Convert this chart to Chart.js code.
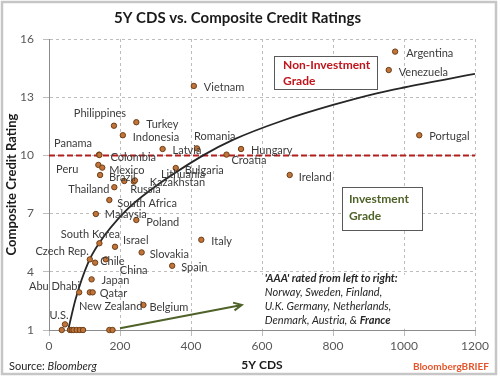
<!DOCTYPE html>
<html>
<head>
<meta charset="utf-8">
<script src="https://cdn.jsdelivr.net/npm/chart.js@4"></script>
<style>
  html, body { margin: 0; padding: 0; background: #fff; }
</style>
</head>
<body>
<canvas id="chart" width="500" height="378"></canvas>
<script>
// values
const countries = ["Argentina", "Venezuela", "Portugal", "Vietnam", "Philippines", "Turkey", "Indonesia",
  "Panama", "Colombia", "Latvia", "Romania", "Hungary", "Croatia", "Ireland", "Bulgaria", "Peru", "Mexico",
  "Brazil", "Russia", "Kazakhstan", "Lithuania", "Thailand", "South Africa", "Malaysia", "Poland",
  "South Korea", "Israel", "Slovakia", "Spain", "Italy", "Czech Rep.", "Chile", "China", "Japan",
  "Abu Dhabi", "Qatar", "New Zealand", "Belgium", "U.S."];
const cds = [975, 957, 1043, 408, 183, 246, 208,
  141, 142, 320, 417, 541, 500, 678, 357, 139, 150,
  144, 212, 239, 242, 184, 170, 132, 246,
  142, 186, 261, 347, 429, 115, 130, 160, 120,
  85, 115, 123, 266, 45];
const rating = [15.35, 14.4, 11.04, 13.58, 11.53, 11.71, 11.04,
  10.04, 10.02, 10.33, 10.36, 10.33, 10.04, 8.99, 9.35, 9.51, 9.37,
  8.99, 8.68, 8.65, 8.71, 8.36, 7.7, 6.98, 6.67,
  5.47, 5.29, 5.0, 4.31, 5.65, 4.64, 4.47, 4.64, 3.61,
  2.94, 2.94, 2.94, 2.29, 1.29];

// AAA countries (unlabelled dots on the bottom line)
const aaaCds = [36, 59, 64, 69, 78, 87, 96, 170, 179];
const aaaRating = [1, 1, 1, 1, 1, 1, 1, 1, 1];

// fitted curve, points
const trendCds = [54, 75, 111, 142, 214, 285, 434, 518, 659, 800, 923, 1000, 1200];
const trendRating = [1.0, 2.6, 4.5, 5.5, 7.1, 8.2, 10.0, 10.8, 11.8, 12.6, 13.2, 13.5, 14.2];

const igLine = 10; // investment grade cut-off
const xTicks = { min: 0, max: 1200, step: 200 };
const yTicks = { min: 1, max: 16, step: 3 };

// label offsets in px from each dot: [dx, dy, align]
const labelPos = {
  "Argentina": [11, 1.5, "left"], "Venezuela": [10, 2, "left"], "Portugal": [10, 1, "left"],
  "Vietnam": [10, 2, "left"], "Philippines": [-14, -12, "center"], "Turkey": [10, 2, "left"],
  "Indonesia": [10, 2, "left"], "Panama": [-7, -11, "right"], "Colombia": [11, 2, "left"],
  "Latvia": [10, 1, "left"], "Romania": [-3, -12, "left"], "Hungary": [10, 1, "left"],
  "Croatia": [5, 5.5, "left"], "Ireland": [9, 2, "left"], "Bulgaria": [9, 2, "left"],
  "Peru": [-20, 5, "right"], "Mexico": [7, 3, "left"], "Brazil": [9, 2, "left"],
  "Russia": [6, 8, "left"], "Kazakhstan": [16, 1, "left"], "Lithuania": [26, -5.5, "left"],
  "Thailand": [-5, 2, "right"], "South Africa": [8, 3, "left"], "Malaysia": [9, 0, "left"],
  "Poland": [10, 2, "left"], "South Korea": [-9, -9, "center"], "Israel": [8, -6, "left"],
  "Slovakia": [8, 2, "left"], "Spain": [9, 2, "left"], "Italy": [10, 2, "left"],
  "Czech Rep.": [-1, -7.5, "right"], "Chile": [5, -1, "left"], "China": [14, 11, "left"],
  "Japan": [10, 1, "left"], "Abu Dhabi": [1, -6, "right"], "Qatar": [10, 1, "left"],
  "New Zealand": [18, 14, "center"], "Belgium": [6, 2, "left"], "U.S.": [-6, -9, "center"]
};

const FONT = 'Lato, "Open Sans", sans-serif';

const extras = {
  id: "extras",
  beforeDatasetsDraw(chart) {
    const ctx = chart.ctx, x = chart.scales.x, y = chart.scales.y;
    // white note area for the AAA text
    ctx.save();
    ctx.fillStyle = "#fff";
    ctx.fillRect(x.getPixelForValue(597), y.getPixelForValue(3.85), 210, 54);
    ctx.restore();
  },
  afterDatasetsDraw(chart) {
    const ctx = chart.ctx, x = chart.scales.x, y = chart.scales.y;
    ctx.save();

    // country labels
    const meta = chart.getDatasetMeta(0);
    ctx.font = "11px " + FONT;
    ctx.fillStyle = "#3b3b3b";
    ctx.textBaseline = "middle";
    meta.data.forEach((pt, i) => {
      const p = labelPos[countries[i]] || [9, 1, "left"];
      ctx.textAlign = p[2];
      ctx.fillText(countries[i], pt.x + p[0], pt.y + p[1]);
    });

    // grade boxes
    function box(x0, y0, x1, y1) {
      const l = x.getPixelForValue(x0), r = x.getPixelForValue(x1);
      const t = y.getPixelForValue(y0), b = y.getPixelForValue(y1);
      ctx.fillStyle = "#fff";
      ctx.fillRect(l, t, r - l, b - t);
      ctx.strokeStyle = "#595959";
      ctx.lineWidth = 1;
      ctx.strokeRect(Math.round(l) + 0.5, Math.round(t) + 0.5, Math.round(r - l), Math.round(b - t));
      return [l, t];
    }
    ctx.textAlign = "left";
    let [bx, by] = box(634, 15.12, 924, 13.42);
    ctx.font = "bold 12px " + FONT;
    ctx.fillStyle = "#c0141c";
    ctx.fillText("Non-Investment", bx + 9, by + 9);
    ctx.fillText("Grade", bx + 9, by + 25);

    [bx, by] = box(825, 8.39, 1051, 6.15);
    ctx.fillStyle = "#4f6228";
    ctx.fillText("Investment", bx + 7, by + 12);
    ctx.fillText("Grade", bx + 7, by + 29);

    // arrow toward AAA dots' note
    const ax0 = x.getPixelForValue(200), ay0 = y.getPixelForValue(1.09);
    const ax1 = x.getPixelForValue(543), ay1 = y.getPixelForValue(2.29);
    ctx.strokeStyle = "#4f6228";
    ctx.lineWidth = 2;
    ctx.beginPath();
    ctx.moveTo(ax0, ay0);
    ctx.lineTo(ax1, ay1);
    const ang = Math.atan2(ay1 - ay0, ax1 - ax0);
    ctx.moveTo(ax1 - 9 * Math.cos(ang - 0.45), ay1 - 9 * Math.sin(ang - 0.45));
    ctx.lineTo(ax1, ay1);
    ctx.lineTo(ax1 - 9 * Math.cos(ang + 0.45), ay1 - 9 * Math.sin(ang + 0.45));
    ctx.stroke();

    // AAA note
    const nx = x.getPixelForValue(608);
    let ny = y.getPixelForValue(3.67);
    ctx.fillStyle = "#262626";
    ctx.font = "italic bold 11px " + FONT;
    ctx.fillText("'AAA' rated from left to right:", nx, ny);
    ctx.font = "italic 11px " + FONT;
    ctx.fillText("Norway, Sweden, Finland,", nx, ny + 14);
    ctx.fillText("U.K. Germany, Netherlands,", nx, ny + 28);
    const s = "Denmark, Austria, & ";
    ctx.fillText(s, nx, ny + 42);
    const w = ctx.measureText(s).width;
    ctx.font = "italic bold 11px " + FONT;
    ctx.fillText("France", nx + w, ny + 42);

    // source and brand
    ctx.fillStyle = "#262626";
    ctx.font = "11px " + FONT;
    ctx.fillText("Source: ", 9, 366);
    const sw = ctx.measureText("Source: ").width;
    ctx.font = "italic 11px " + FONT;
    ctx.fillText("Bloomberg", 9 + sw, 366);
    ctx.textAlign = "right";
    ctx.font = "bold 10px " + FONT;
    ctx.fillStyle = "#e4552b";
    ctx.fillText("BloombergBRIEF", 489, 367);

    // outer frame
    ctx.strokeStyle = "#c6c6c6";
    ctx.lineWidth = 2.5;
    ctx.strokeRect(2, 2, 494, 372);
    ctx.restore();
  }
};

new Chart(document.getElementById("chart"), {
  type: "scatter",
  data: {
    datasets: [{
      label: "Countries",
      data: cds.map((v, i) => ({ x: v, y: rating[i] })),
      backgroundColor: "#c0743a",
      borderColor: "#6e3e16",
      borderWidth: 1,
      pointRadius: 2.7,
      order: 0
    }, {
      label: "AAA",
      data: aaaCds.map((v, i) => ({ x: v, y: aaaRating[i] })),
      backgroundColor: "#c0743a",
      borderColor: "#6e3e16",
      borderWidth: 1,
      pointRadius: 2.7,
      clip: false,
      order: 0
    }, {
      type: "line",
      label: "Fit",
      data: trendCds.map((v, i) => ({ x: v, y: trendRating[i] })),
      borderColor: "#262626",
      borderWidth: 1.8,
      pointRadius: 0,
      cubicInterpolationMode: "monotone",
      fill: false,
      order: 1
    }, {
      type: "line",
      label: "IG",
      data: [{ x: xTicks.min, y: igLine }, { x: xTicks.max, y: igLine }],
      borderColor: "#b41e1e",
      borderWidth: 2,
      borderDash: [6, 3],
      pointRadius: 0,
      fill: false,
      order: 2
    }]
  },
  options: {
    responsive: false,
    animation: false,
    layout: { padding: { left: 0, right: 25, top: 0, bottom: 0 } },
    plugins: {
      legend: { display: false },
      tooltip: { enabled: false },
      title: {
        display: true,
        text: "5Y CDS vs. Composite Credit Ratings",
        color: "#1a1a1a",
        font: { family: FONT, size: 15, weight: "bold" },
        padding: { top: 9, bottom: 12 }
      }
    },
    scales: {
      x: {
        type: "linear",
        min: xTicks.min, max: xTicks.max,
        ticks: { stepSize: xTicks.step, color: "#595959", font: { family: FONT, size: 12 }, padding: 3,
          callback: v => String(v) },
        grid: { color: "#bdbdbd", tickLength: 6 },
        border: { display: true, color: "#8c8c8c", dash: [3, 3] },
        title: { display: true, text: "5Y CDS", color: "#1a1a1a",
          font: { family: FONT, size: 12, weight: "bold" }, padding: { top: 0, bottom: 6 } },
        afterFit(s) { s.height = 48; }
      },
      y: {
        type: "linear",
        min: yTicks.min, max: yTicks.max,
        ticks: { stepSize: yTicks.step, color: "#595959", font: { family: FONT, size: 12 }, padding: 9 },
        grid: { color: "#bdbdbd", tickLength: 6 },
        border: { display: true, color: "#8c8c8c", dash: [3, 3] },
        title: { display: true, text: "Composite Credit Rating", color: "#1a1a1a",
          font: { family: FONT, size: 13, weight: "bold" }, padding: { top: 4, bottom: 0 } },
        afterFit(s) { s.width = 49; }
      }
    }
  },
  plugins: [extras]
});
</script>
</body>
</html>
